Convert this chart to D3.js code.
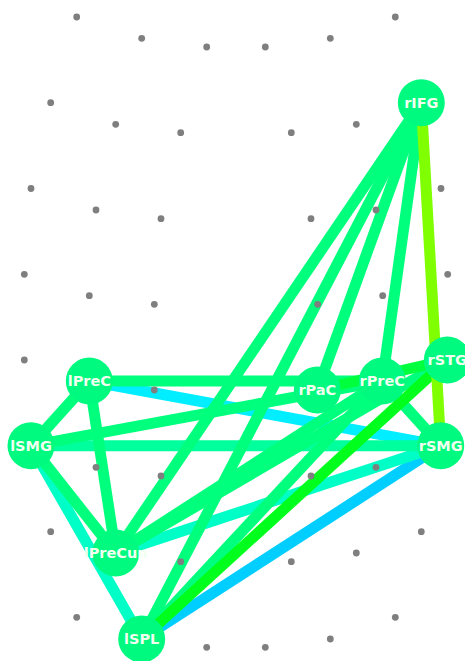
<!DOCTYPE html>
<html>
<head>
<meta charset="utf-8">
<script src="https://cdn.jsdelivr.net/npm/d3@7/dist/d3.min.js"></script>
<style>
html, body { margin: 0; padding: 0; background: #ffffff; }
svg { display: block; }
</style>
</head>
<body>
<svg id="chart" width="465" height="661"></svg>
<script>
// ---- data (layout coordinates: origin at head centre, y up) ----
const nodeNames = ["rIFG", "rSTG", "rPaC", "rPreC", "rSMG", "lPreC", "lSMG", "lPreCun", "lSPL"];
const nodeX = [185.3, 211.3, 81.3, 146.3, 204.7, -146.7, -205, -120.3, -94.3];
const nodeY = [229.3, -28, -58, -49, -113.7, -49, -113.7, -221, -307];

const dotX = [
  -159.3, 159.3, -94.3, 94.3, -29.3, 29.3,
  -185.3, 185.3, -120.3, 120.3, -55.3, 55.3,
  -205, 205, -140, 140, -75, 75,
  -211.7, 211.7, -146.7, 146.7, -81.7, 81.7,
  -211.7, 211.7, -146.7, 146.7, -81.7, 81.7,
  -205, 205, -140, 140, -75, 75,
  -185.3, 185.3, -120.3, 120.3, -55.3, 55.3,
  -159.3, 159.3, -94.3, 94.3, -29.3, 29.3
];
const dotY = [
  315, 315, 293.7, 293.7, 285, 285,
  229.3, 229.3, 207.7, 207.7, 199.3, 199.3,
  143.5, 143.5, 122, 122, 113.3, 113.3,
  57.7, 57.7, 36.3, 36.3, 27.7, 27.7,
  -28, -28, -49, -49, -58, -58,
  -113.7, -113.7, -135.3, -135.3, -144, -144,
  -199.7, -199.7, -221, -221, -229.7, -229.7,
  -285.3, -285.3, -307, -307, -315.3, -315.3
];

const edgeSource = ["lSPL", "lPreC", "lSMG", "lPreCun", "lSMG",
  "rIFG", "rIFG", "rIFG", "rIFG", "lPreC", "lPreC", "lPreC", "lSMG", "lSMG",
  "lPreCun", "lPreCun", "lSPL", "rPreC",
  "rPaC", "lSPL", "rIFG"];
const edgeTarget = ["rSMG", "rSMG", "lSPL", "rSMG", "rSMG",
  "rPreC", "rPaC", "lPreCun", "lSPL", "rPreC", "lSMG", "lPreCun", "lPreCun", "rPreC",
  "rPreC", "rSTG", "rPreC", "rSMG",
  "rSTG", "rSTG", "rSMG"];
const edgeValue = [0.06, 0.13, 0.29, 0.29, 0.38,
  0.45, 0.45, 0.45, 0.45, 0.45, 0.45, 0.45, 0.45, 0.45,
  0.45, 0.45, 0.45, 0.45,
  0.59, 0.66, 1.0];

// ---- scales ----
const W = 465, H = 661;
const x = d3.scaleLinear().domain([-236, 229]).range([0, W]);
const y = d3.scaleLinear().domain([332, -329]).range([0, H]);
const hue = d3.scaleLinear().domain([0, 1]).range([198, 90]);
const edgeColor = v => d3.hsl(hue(v), 1, 0.5).formatHex();

const nodes = nodeNames.map((n, i) => ({ name: n, x: nodeX[i], y: nodeY[i] }));
const byName = Object.fromEntries(nodes.map(n => [n.name, n]));
const edges = edgeSource.map((s, i) => ({ s: byName[s], t: byName[edgeTarget[i]], v: edgeValue[i], i }))
  .sort((a, b) => a.v - b.v || a.i - b.i);
const dots = dotX.map((d, i) => ({ x: d, y: dotY[i] }));

const svg = d3.select("#chart");

svg.append("g").selectAll("line").data(edges).join("line")
  .attr("x1", d => x(d.s.x)).attr("y1", d => y(d.s.y))
  .attr("x2", d => x(d.t.x)).attr("y2", d => y(d.t.y))
  .attr("stroke", d => edgeColor(d.v))
  .attr("stroke-width", 11);

svg.append("g").selectAll("circle").data(dots).join("circle")
  .attr("cx", d => x(d.x)).attr("cy", d => y(d.y))
  .attr("r", 3.4).attr("fill", "#7f7f7f");

const ng = svg.append("g").selectAll("g").data(nodes).join("g")
  .attr("transform", d => `translate(${x(d.x)},${y(d.y)})`);
ng.append("circle").attr("r", 23.5).attr("fill", "#00fa7f");
ng.append("text")
  .attr("text-anchor", "middle")
  .attr("dy", "0.36em")
  .attr("font-family", "DejaVu Sans, sans-serif")
  .attr("font-weight", "bold")
  .attr("font-size", 14.5)
  .attr("fill", "#f0fff0")
  .text(d => d.name);
</script>
</body>
</html>
